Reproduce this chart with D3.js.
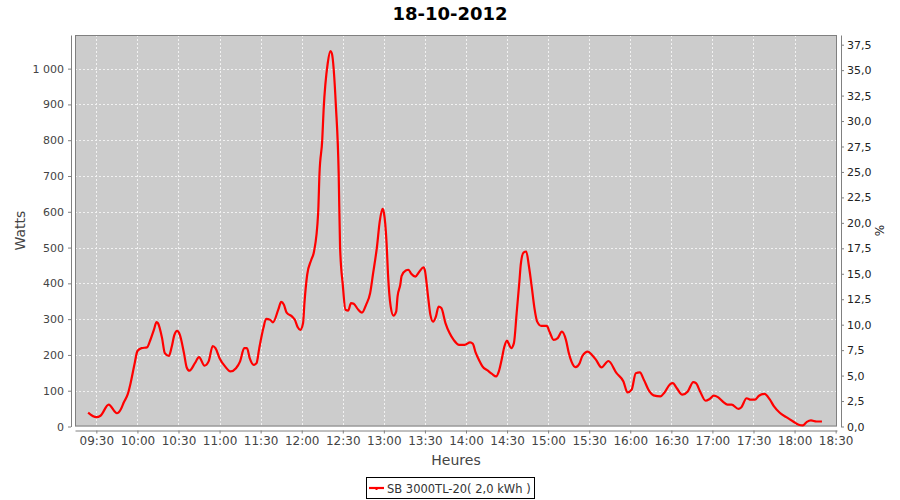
<!DOCTYPE html>
<html>
<head>
<meta charset="utf-8">
<script src="https://cdn.jsdelivr.net/npm/d3@7"></script>
<style>
  body { margin: 0; background: #fff; }
  svg { display: block; font-family: "DejaVu Sans", sans-serif; }
</style>
</head>
<body>
<svg id="chart" width="900" height="500"></svg>
<script>
// ---- Data ----
const chartTitle = "18-10-2012";
const seriesName = "SB 3000TL-20( 2,0 kWh )";
const times = [
  "09:24","09:30","09:33","09:39","09:45","09:48","09:50","09:53","09:55","09:58",
  "10:00","10:03","10:07","10:09","10:12","10:14","10:15","10:18","10:20","10:23",
  "10:25","10:27","10:29","10:31","10:34","10:36","10:38","10:42","10:45","10:49",
  "10:52","10:55","10:57","11:00","11:04","11:08","11:12","11:15","11:18","11:20",
  "11:22","11:25","11:27","11:29","11:32","11:34","11:37","11:39","11:43","11:45",
  "11:47","11:49","11:53","11:55","11:57","11:59","12:01","12:02","12:04","12:07",
  "12:09","12:12","12:13","12:15","12:16","12:19","12:21","12:22","12:25","12:27",
  "12:28","12:30","12:32","12:34","12:36","12:38","12:41","12:44","12:47","12:50",
  "12:52","12:55","12:57","12:59","13:00","13:02","13:03","13:05","13:07","13:09",
  "13:10","13:12","13:13","13:16","13:18","13:20","13:23","13:26","13:29","13:30",
  "13:32","13:34","13:36","13:38","13:40","13:42","13:45","13:48","13:51","13:55",
  "13:59","14:03","14:05","14:07","14:10","14:12","14:16","14:19","14:22","14:24",
  "14:26","14:28","14:30","14:31","14:33","14:35","14:37","14:39","14:40","14:42",
  "14:44","14:46","14:48","14:50","14:52","14:55","14:59","15:01","15:04","15:07",
  "15:10","15:13","15:15","15:17","15:20","15:23","15:25","15:29","15:32","15:35",
  "15:39","15:44","15:50","15:55","15:58","16:01","16:04","16:07","16:10","16:14",
  "16:17","16:22","16:25","16:29","16:31","16:34","16:38","16:42","16:46","16:48",
  "16:51","16:55","16:58","17:01","17:04","17:08","17:11","17:14","17:19","17:21",
  "17:25","17:28","17:31","17:34","17:38","17:42","17:45","17:49","17:54","17:59",
  "18:03","18:06","18:09","18:12","18:16","18:20"
];
const watts = [
  39,26,30,61,37,49,67,91,121,177,
  211,219,221,237,270,292,289,247,205,197,
  222,256,267,256,205,165,156,177,194,170,
  182,225,219,191,168,154,163,182,219,219,
  191,172,177,219,275,301,298,291,328,348,
  340,318,307,298,278,270,289,345,424,466,
  489,596,708,801,885,1015,1049,1043,894,708,
  503,396,326,324,345,343,328,318,340,373,
  424,503,573,608,598,512,428,335,310,321,
  363,396,421,436,438,427,419,433,445,436,
  373,312,293,307,335,331,289,261,242,228,
  228,235,231,207,182,168,156,147,140,154,
  186,223,240,233,219,233,317,405,452,486,
  489,447,391,331,293,281,281,265,242,247,
  265,242,207,182,166,177,197,209,200,186,
  165,183,149,126,95,103,149,151,130,98,
  87,84,95,118,121,107,89,98,124,121,
  98,72,77,86,82,68,61,61,49,53,
  79,75,75,86,91,75,56,39,26,14,
  5,3,13,17,14,14
];
const xDomain = ["09:14.4", "18:31"];
const wattsMax = 1094;
const percentMax = 38.45;
const wattTicks = [0,100,200,300,400,500,600,700,800,900,1000];
const percentTicks = [0,2.5,5,7.5,10,12.5,15,17.5,20,22.5,25,27.5,30,32.5,35,37.5];

// ---- Helpers ----
function toDate(s) {
  const [h, m] = s.split(":");
  const mm = parseFloat(m);
  return new Date(2012, 9, 18, +h, Math.floor(mm), Math.round((mm % 1) * 60));
}
const data = times.map((t, i) => ({ t: toDate(t), w: watts[i] }));

// ---- Layout ----
const svg = d3.select("#chart");
const L = 75, R = 837, T = 35, B = 426.5;

const x = d3.scaleTime().domain(xDomain.map(toDate)).range([L, R]);
const y = d3.scaleLinear().domain([0, wattsMax]).range([B, T]);
const yP = d3.scaleLinear().domain([0, percentMax]).range([B, T]);

// Title
svg.append("text").attr("x", 450).attr("y", 19.5).attr("text-anchor", "middle")
  .attr("font-size", 18).attr("font-weight", "bold").attr("fill", "#000").text(chartTitle);

// Plot background
svg.append("rect").attr("x", L).attr("y", T).attr("width", R - L).attr("height", B - T)
  .attr("fill", "#cccccc");

// Gridlines
const xTicks = x.ticks(d3.timeMinute.every(30));
svg.append("g").selectAll("line").data(xTicks).join("line")
  .attr("x1", d => Math.round(x(d)) + 0.5).attr("x2", d => Math.round(x(d)) + 0.5)
  .attr("y1", T).attr("y2", B)
  .attr("stroke", "#f2f2f2").attr("stroke-width", 1).attr("stroke-dasharray", "2,2");
svg.append("g").selectAll("line").data(wattTicks.filter(d => d > 0)).join("line")
  .attr("x1", L).attr("x2", R)
  .attr("y1", d => Math.round(y(d)) + 0.5).attr("y2", d => Math.round(y(d)) + 0.5)
  .attr("stroke", "#f2f2f2").attr("stroke-width", 1).attr("stroke-dasharray", "2,2");

// Plot outline
svg.append("rect").attr("x", L + 0.5).attr("y", T + 0.5).attr("width", R - L - 1).attr("height", B - T - 1)
  .attr("fill", "none").attr("stroke", "#808080");

// Series line
const line = d3.line().x(d => x(d.t)).y(d => y(d.w)).curve(d3.curveMonotoneX);
svg.append("path").datum(data).attr("d", line)
  .attr("fill", "none").attr("stroke", "#ff0000").attr("stroke-width", 2.2)
  .attr("stroke-linejoin", "round");

// Axes
function styleAxis(g) {
  g.select(".domain").attr("stroke", "#808080");
  g.selectAll(".tick line").attr("stroke", "#808080");
  g.selectAll(".tick text").attr("fill", "#444").attr("font-size", 11)
    .attr("font-family", "DejaVu Sans, sans-serif");
}

const fmtW = d => d3.format(",")(d).replace(/,/g, " ");
svg.append("g").attr("transform", "translate(71,0)")
  .call(d3.axisLeft(y).tickValues(wattTicks).tickFormat(fmtW).tickSize(3).tickSizeOuter(0).tickPadding(4))
  .call(styleAxis);

const fmtP = d => d3.format(".1f")(d).replace(".", ",");
svg.append("g").attr("transform", "translate(841,0)")
  .call(d3.axisRight(yP).tickValues(percentTicks).tickFormat(fmtP).tickSize(3).tickSizeOuter(0).tickPadding(3))
  .call(styleAxis)
  .call(g => g.selectAll(".tick text").attr("fill", "#222"));

svg.append("g").attr("transform", "translate(0,430.5)")
  .call(d3.axisBottom(x).tickValues(xTicks).tickFormat(d3.timeFormat("%H:%M")).tickSize(3).tickSizeOuter(0).tickPadding(3))
  .call(styleAxis)
  .call(g => g.selectAll(".tick text").attr("font-size", 12));

// Axis labels
svg.append("text").attr("transform", "translate(25,230.5) rotate(-90)")
  .attr("text-anchor", "middle").attr("font-size", 14).attr("fill", "#444").text("Watts");
svg.append("text").attr("transform", "translate(884,230.5) rotate(-90)")
  .attr("text-anchor", "middle").attr("font-size", 12).attr("fill", "#222").text("%");
svg.append("text").attr("x", 456).attr("y", 465)
  .attr("text-anchor", "middle").attr("font-size", 14).attr("fill", "#444").text("Heures");

// Legend
svg.append("rect").attr("x", 366.5).attr("y", 477.5).attr("width", 168).attr("height", 21)
  .attr("fill", "#fff").attr("stroke", "#000");
svg.append("line").attr("x1", 369).attr("x2", 384).attr("y1", 488).attr("y2", 488)
  .attr("stroke", "#ff0000").attr("stroke-width", 2.2);
svg.append("rect").attr("x", 375.5).attr("y", 487).attr("width", 2).attr("height", 3).attr("fill", "#ff0000");
svg.append("text").attr("x", 387).attr("y", 492.5).attr("font-size", 11.5).attr("fill", "#333").text(seriesName);
</script>
</body>
</html>
